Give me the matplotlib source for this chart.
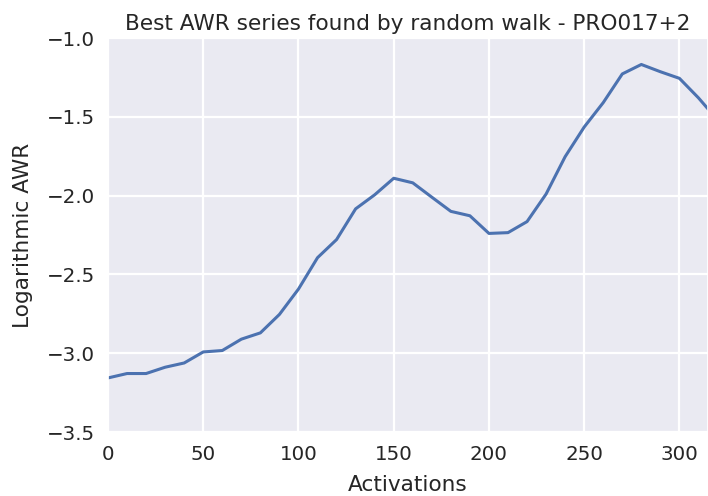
import numpy as np
import matplotlib
matplotlib.use("Agg")
import matplotlib.pyplot as plt
import seaborn as sns

activations = list(range(0, 330, 10))
log_awr = [-3.157, -3.129, -3.129, -3.089, -3.062, -2.992, -2.983, -2.911,
           -2.871, -2.754, -2.593, -2.394, -2.279, -2.084, -1.995, -1.890,
           -1.919, -2.010, -2.100, -2.128, -2.240, -2.235, -2.165, -1.990,
           -1.753, -1.565, -1.410, -1.228, -1.168, -1.214, -1.256, -1.380,
           -1.520]

sns.set_theme(style="darkgrid", font_scale=1.3)
plt.rcParams["grid.linewidth"] = 1.6

fig = plt.figure(figsize=(7.08, 4.96), dpi=100)
ax = fig.add_axes([108 / 708, 64 / 496, 600 / 708, 394 / 496])
ax.plot(activations, log_awr, lw=2.2)
ax.set_xlim(0, 315)
ax.set_ylim(-3.5, -1.0)
ax.tick_params(labelsize=14.3)
ax.set_xlabel("Activations", fontsize=15.6, labelpad=8)
ax.set_ylabel("Logarithmic AWR", fontsize=15.6, labelpad=10)
ax.set_title("Best AWR series found by random walk - PRO017+2", fontsize=15.6)
fig.savefig("out.png", dpi=100)
